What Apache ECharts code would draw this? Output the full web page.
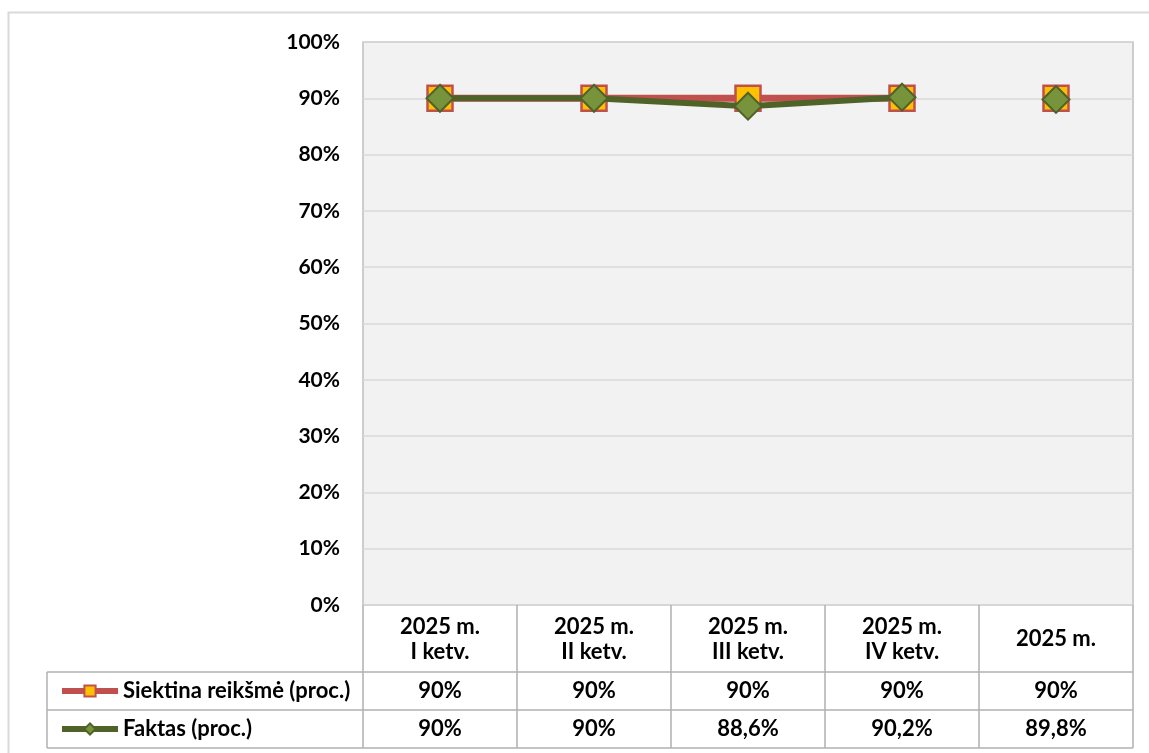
<!DOCTYPE html>
<html><head><meta charset="utf-8">
<script src="https://cdn.jsdelivr.net/npm/echarts@6/dist/echarts.min.js"></script>
<style>html,body{margin:0;padding:0;background:#fff}#c{width:1149px;height:753px}</style>
</head><body><div id="c"></div>
<script>
const categories = ['2025 m.\nI ketv.', '2025 m.\nII ketv.', '2025 m.\nIII ketv.', '2025 m.\nIV ketv.', '2025 m.'];
const targetName = 'Siektina reikšmė (proc.)';
const factName = 'Faktas (proc.)';
const targetValues = [90, 90, 90, 90, 90];
const factValues = [90, 90, 88.6, 90.2, 89.8];
const connectedCount = 4; // quarters are joined; the yearly value stands alone

const FONT = 'Lato';
const fmt = v => String(v).replace('.', ',') + '%';
const joined = arr => arr.map((v, i) => i < connectedCount ? v : '-');
const alone = arr => arr.map((v, i) => i >= connectedCount ? v : '-');

const targetStyle = {
  lineStyle: {color: '#c0504d', width: 7},
  itemStyle: {color: '#ffc000', borderColor: '#c0504d', borderWidth: 2.5},
  symbol: 'rect', symbolSize: 25
};
const factStyle = {
  lineStyle: {color: '#4f6228', width: 6},
  itemStyle: {color: '#77933c', borderColor: '#4f6228', borderWidth: 2},
  symbol: 'diamond', symbolSize: 27
};

const chart = echarts.init(document.getElementById('c'));
const txt = {fontFamily: FONT, fontWeight: 'bold', fontSize: 22, color: '#000'};
const tableAxis = (data, margin) => ({
  type: 'category', data: data, gridIndex: 0, position: 'bottom',
  axisLine: {show: false}, axisTick: {show: false}, splitLine: {show: false},
  axisLabel: Object.assign({margin: margin, verticalAlign: 'middle', interval: 0}, txt)
});
const legendRow = (name, top, lineColor) => ({
  data: [name], orient: 'horizontal', left: 59, top: top, padding: 0,
  itemWidth: 56, itemHeight: 14, selectedMode: false,
  lineStyle: {width: 6, color: lineColor},
  textStyle: Object.assign({lineHeight: 24}, txt)
});
chart.setOption({
  animation: false,
  backgroundColor: '#fff',
  grid: {left: 363, top: 42, right: 16, bottom: 148, show: true,
         backgroundColor: '#f2f2f2', borderColor: '#bfbfbf', borderWidth: 1.5},
  legend: [
    legendRow(targetName, 679, '#c0504d'),
    legendRow(factName, 717, '#4f6228')
  ],
  xAxis: [
    {
      type: 'category', data: categories, boundaryGap: true,
      axisLine: {show: false},
      axisTick: {show: true, length: 143, lineStyle: {color: '#b0b0b0', width: 1.5}},
      axisLabel: Object.assign({margin: 34, verticalAlign: 'middle', lineHeight: 25, interval: 0}, txt)
    },
    tableAxis(targetValues.map(fmt), 86),
    tableAxis(factValues.map(fmt), 124)
  ],
  yAxis: {
    type: 'value', min: 0, max: 100, interval: 10,
    axisLine: {show: false}, axisTick: {show: false},
    splitLine: {lineStyle: {color: '#d9d9d9', width: 1.5}},
    axisLabel: Object.assign({formatter: '{value}%', margin: 23}, txt, {fontSize: 21})
  },
  series: [
    Object.assign({type: 'line', name: targetName, data: joined(targetValues), z: 2}, targetStyle),
    Object.assign({type: 'line', name: targetName, data: alone(targetValues), z: 2}, targetStyle),
    Object.assign({type: 'line', name: factName, data: joined(factValues), z: 3}, factStyle),
    Object.assign({type: 'line', name: factName, data: alone(factValues), z: 3}, factStyle)
  ],
  graphic: [
    {type: 'rect', shape: {x: 8.5, y: 12.5, width: 1300, height: 900}, style: {fill: 'none', stroke: '#d9d9d9', lineWidth: 2}, silent: true},
    {type: 'line', shape: {x1: 47, y1: 672, x2: 1133, y2: 672}, style: {stroke: '#b0b0b0', lineWidth: 1.5}},
    {type: 'line', shape: {x1: 47, y1: 710, x2: 1133, y2: 710}, style: {stroke: '#b0b0b0', lineWidth: 1.5}},
    {type: 'line', shape: {x1: 47, y1: 748, x2: 1133, y2: 748}, style: {stroke: '#b0b0b0', lineWidth: 1.5}},
    {type: 'line', shape: {x1: 47, y1: 672, x2: 47, y2: 748}, style: {stroke: '#b0b0b0', lineWidth: 1.5}}
  ]
});
</script></body></html>
